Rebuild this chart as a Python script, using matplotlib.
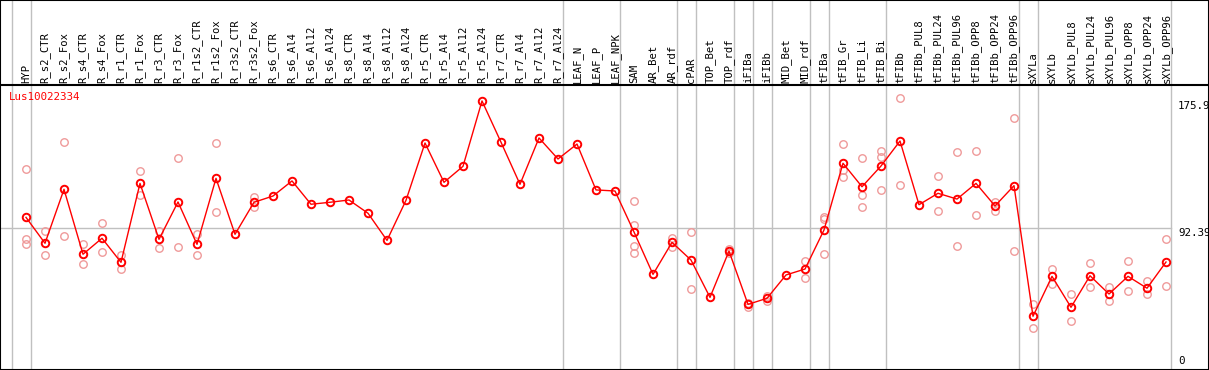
import numpy as np
import matplotlib
matplotlib.use("Agg")
import matplotlib.pyplot as plt

# figure size in pixels
W, H = 1209, 370

gene = "Lus10022334"

categories = [
    "HYP",
    "R_s2_CTR", "R_s2_Fox", "R_s4_CTR", "R_s4_Fox", "R_r1_CTR", "R_r1_Fox",
    "R_r3_CTR", "R_r3_Fox", "R_r1s2_CTR", "R_r1s2_Fox", "R_r3s2_CTR", "R_r3s2_Fox",
    "R_s6_CTR", "R_s6_Al4", "R_s6_Al12", "R_s6_Al24", "R_s8_CTR", "R_s8_Al4",
    "R_s8_Al12", "R_s8_Al24", "R_r5_CTR", "R_r5_Al4", "R_r5_Al12", "R_r5_Al24",
    "R_r7_CTR", "R_r7_Al4", "R_r7_Al12", "R_r7_Al24",
    "LEAF_N", "LEAF_P", "LEAF_NPK",
    "SAM", "AR_Bet", "AR_rdf",
    "cPAR",
    "TOP_Bet", "TOP_rdf",
    "iFIBa",
    "iFIBb",
    "MID_Bet", "MID_rdf",
    "tFIBa",
    "tFIB_Gr", "tFIB_Li", "tFIB_Bi",
    "tFIBb", "tFIBb_PUL8", "tFIBb_PUL24", "tFIBb_PUL96", "tFIBb_OPP8",
    "tFIBb_OPP24", "tFIBb_OPP96",
    "sXYLa",
    "sXYLb", "sXYLb_PUL8", "sXYLb_PUL24", "sXYLb_PUL96", "sXYLb_OPP8",
    "sXYLb_OPP24", "sXYLb_OPP96",
]

# how many samples in each tissue group (separators drawn after each group)
group_sizes = [1, 28, 3, 3, 1, 2, 1, 1, 2, 1, 3, 7, 1, 7]

means = [
    99.5,
    82.5, 117.9, 75.3, 85.8, 70.0, 121.8, 85.1, 109.6, 81.8, 125.1, 88.4, 109.4,
    113.5, 123.4, 108.1, 109.4, 110.9, 102.2, 84.4, 110.7, 148.3, 122.5, 133.0,
    175.9, 148.8, 121.2, 151.6, 137.8,
    147.6, 117.5, 116.8,
    89.9, 62.1, 83.1,
    71.5,
    47.0, 77.4,
    42.4,
    46.4,
    61.7, 65.6,
    91.2,
    135.0, 119.6, 133.2,
    149.6, 107.8, 115.3, 111.5, 121.8, 107.0, 120.3,
    34.6,
    60.8, 40.5, 61.2, 49.2, 60.8, 53.0, 70.2,
]

replicates = {
    "HYP": [131.0, 85.5, 81.8],
    "R_s2_CTR": [90.6, 74.6],
    "R_s2_Fox": [148.8, 87.1],
    "R_s4_CTR": [81.8, 68.7],
    "R_s4_Fox": [95.6, 76.6],
    "R_r1_CTR": [74.6, 65.4],
    "R_r1_Fox": [129.7, 114.0],
    "R_r3_CTR": [90.6, 79.2],
    "R_r3_Fox": [138.5, 79.9],
    "R_r1s2_CTR": [88.6, 74.6],
    "R_r1s2_Fox": [148.1, 102.8],
    "R_r3s2_Fox": [113.1, 106.1],
    "SAM": [110.2, 94.5, 80.7, 76.1],
    "AR_rdf": [86.2, 79.9],
    "cPAR": [89.9, 52.5],
    "TOP_rdf": [78.5, 76.3],
    "iFIBa": [43.5, 40.9],
    "iFIBb": [48.1, 44.8],
    "MID_rdf": [71.1, 59.5],
    "tFIBa": [99.9, 98.2, 75.3],
    "tFIB_Gr": [147.6, 130.6, 125.8],
    "tFIB_Li": [138.5, 114.2, 106.1],
    "tFIB_Bi": [143.0, 138.9, 117.3],
    "tFIBb": [177.6, 120.5],
    "tFIBb_PUL24": [126.9, 103.5],
    "tFIBb_PUL96": [142.2, 80.5],
    "tFIBb_OPP8": [142.8, 100.8],
    "tFIBb_OPP24": [109.6, 103.9],
    "tFIBb_OPP96": [164.5, 77.2],
    "sXYLa": [42.7, 26.7],
    "sXYLb": [65.6, 55.6],
    "sXYLb_PUL8": [49.0, 31.5],
    "sXYLb_PUL24": [69.6, 53.6],
    "sXYLb_PUL96": [53.6, 44.8],
    "sXYLb_OPP8": [70.9, 51.2],
    "sXYLb_OPP24": [57.7, 49.0],
    "sXYLb_OPP96": [85.1, 54.3],
}

ref_max = 175.9
ref_mid = 92.39

# pixel layout: first sample at x=26, 19 px apart; value 0 at y=369, 1.524 px per unit
X0, DX = 26, 19
Y0, SY = 369, 1.524


def xd(px):
    return (px - X0) / DX


def yd(py):
    return (Y0 - py) / SY


fig = plt.figure(figsize=(W / 100, H / 100), dpi=100)
ax = fig.add_axes([0, 0, 1, 1])
ax.set_xlim(xd(0), xd(W))
ax.set_ylim(yd(H), yd(0))
ax.set_xticks([])
ax.set_yticks([])
for s in ax.spines.values():
    s.set_color("black")
    s.set_linewidth(1.5)

x = np.arange(len(categories))

# group separators
bounds = np.concatenate([[-1], np.cumsum(group_sizes) - 1]) + 0.26
for b in bounds:
    ax.axvline(b, color="#c0c0c0", lw=1.0, zorder=1)

# reference line at the mid value
ax.plot([xd(0), bounds[-1]], [ref_mid, ref_mid], color="#c0c0c0", lw=1.0, zorder=1)

# header separator
ax.axhline(yd(85), color="black", lw=1.5, zorder=2)

# replicates
for i, name in enumerate(categories):
    vals = replicates.get(name, [])
    ax.plot([i] * len(vals), vals, "o", ms=5.4, mfc="none", mec="#ef9a9a",
            mew=1.0, zorder=3)

# means
ax.plot(x, means, "-", color="red", lw=1.0, zorder=4)
ax.plot(x, means, "o", ms=5.4, mfc="none", mec="red", mew=1.4, zorder=5)

mono = "DejaVu Sans Mono"
for i, name in enumerate(categories):
    ax.text(i, yd(83), name, rotation=90, ha="center", va="bottom",
            fontsize=7.6, family=mono, color="black")

ax.text(xd(9), yd(97), gene, ha="left", va="center", fontsize=7.8,
        family=mono, color="red")

ax.text(xd(1178), ref_max, f"{ref_max:g}", ha="left", va="top",
        fontsize=7.8, family=mono)
ax.text(xd(1178), ref_mid, f"{ref_mid:g}", ha="left", va="top",
        fontsize=7.8, family=mono)
ax.text(xd(1178), yd(366), "0", ha="left", va="bottom",
        fontsize=7.8, family=mono)

fig.savefig("out.png", dpi=100)
